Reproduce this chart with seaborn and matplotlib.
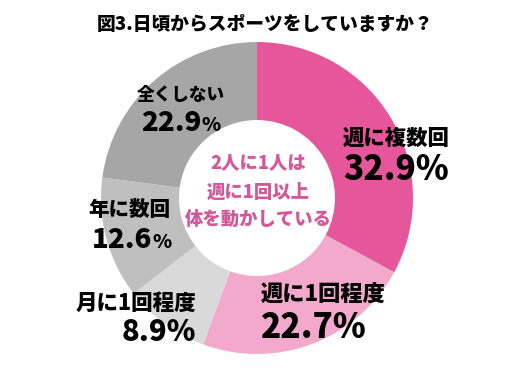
import matplotlib.pyplot as plt
import seaborn as sns

categories = ['週に複数回', '週に1回程度', '月に1回程度', '年に数回', '全くしない']
values = [32.9, 22.7, 8.9, 12.6, 22.9]
colors = ['#E5579A', '#F2A9CC', '#D9D9D9', '#BFBFBF', '#A6A6A6']
title = '図3.日頃からスポーツをしていますか？'
center_lines = ['2人に1人は', '週に1回以上', '体を動かしている']

sns.set_theme(style='white')
plt.rcParams['font.family'] = ['Noto Sans CJK JP', 'DejaVu Sans']

W, H = 529, 390
fig = plt.figure(figsize=(W / 100, H / 100), dpi=100)
# donut centre about (257, 198) px, radius 156 px
cx, cy, r = 257, 198, 156
ax = fig.add_axes([(cx - r) / W, (H - cy - r) / H, 2 * r / W, 2 * r / H])
ax.pie(values, colors=colors, startangle=90, counterclock=False,
       radius=1.0, wedgeprops=dict(width=0.5, edgecolor='white', linewidth=0))
ax.set_xlim(-1, 1)
ax.set_ylim(-1, 1)
ax.set_aspect('equal')
ax.axis('off')


def px(x, y):
    return x / W, 1 - y / H


fig.text(*px(265, 24), title, ha='center', va='center', fontsize=13.5, fontweight='heavy', color='black')

for line, y in zip(center_lines, [163, 192, 219]):
    fig.text(*px(258, y), line, ha='center', va='center', fontsize=13.2,
             fontweight='heavy', color='#D6569A')

# label layout: (x, label y, value y, align, label size, value size, small %)
layout = [
    (343, 138, 170, 'left', 15.4, 24, False),
    (261, 295, 327, 'left', 16, 24, False),
    (196, 303, 332, 'right', 15.5, 21, False),
    (88, 210, 240, 'left', 14.8, 20, True),
    (137, 95, 123, 'left', 12.7, 20, True),
]
for cat, val, (x, ly, vy, ha, ls, vs, small) in zip(categories, values, layout):
    fig.text(*px(x, ly), cat, ha=ha, va='center', fontsize=ls,
             fontweight='heavy', color='black')
    num = f'{val:.1f}'
    if small:
        t = fig.text(*px(x + 4, vy), num, ha='left', va='center', fontsize=vs,
                     fontweight='heavy', color='black')
        ax.annotate('%', xy=(1, 0.08), xycoords=t, ha='left', va='bottom',
                    fontsize=14, fontweight='heavy', color='black')
    else:
        fig.text(*px(x, vy), num + '%', ha=ha, va='center', fontsize=vs,
                 fontweight='heavy', color='black')

fig.savefig('out.png', dpi=100)
